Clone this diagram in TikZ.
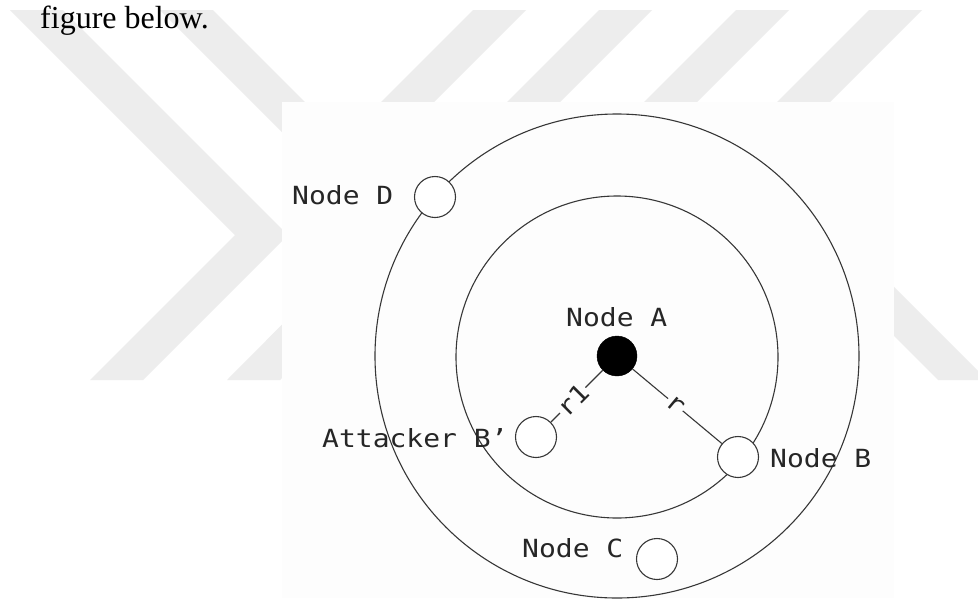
\documentclass[tikz,border=0pt]{standalone}
\usepackage{fontspec}
\setmainfont{Liberation Serif}
\newfontfamily\diagfont[FakeStretch=1.12]{DejaVu Sans Mono}
\definecolor{markgray}{RGB}{237,237,237}
\definecolor{inkgray}{RGB}{55,55,55}
\definecolor{paper}{RGB}{253,253,253}
\tikzset{
  band/.style={fill=markgray, draw=none},
  ring/.style={draw=inkgray, line width=1.1pt},
  hollow/.style={circle, draw=inkgray, line width=1.1pt, fill=white,
                 minimum size=41pt, inner sep=0pt},
  solid/.style={circle, draw=black, fill=black, minimum size=40pt, inner sep=0pt},
  tag/.style={font=\diagfont\fontsize{25}{30}\selectfont, inner sep=0pt,
              anchor=base west, text=black!85},
  link/.style={draw=inkgray, line width=1.1pt},
  dist/.style={font=\diagfont\fontsize{25}{30}\selectfont, inner sep=1pt,
               fill=paper, text=black!85}
}
\begin{document}
\begin{tikzpicture}[x=1pt, y=-1pt]
\useasboundingbox (0,0) rectangle (978,598);
\clip (0,0) rectangle (978,598);
\fill[white] (0,0) rectangle (978,598);

% background chevrons and slanted bars
\fill[band] (10,10) -- (63,10) -- (288,235) -- (143,380) -- (90,380) -- (235,235) -- cycle;
\fill[band] (160,10) -- (213,10) -- (431,228) -- (280,380) -- (227,380) -- (378,228) -- cycle;
\fill[band] (473,10) -- (526,10) -- (434,102) -- (381,102) -- cycle;
\fill[band] (599,10) -- (652,10) -- (560,102) -- (507,102) -- cycle;
\fill[band] (736,10) -- (789,10) -- (697,102) -- (644,102) -- cycle;
\fill[band] (869,10) -- (922,10) -- (830,102) -- (777,102) -- cycle;
\fill[band] (938,380) -- (987,380) -- (800,193) -- (751,193) -- cycle;

% running text above the figure
\node[anchor=base west, inner sep=0pt, font=\fontsize{32}{38}\selectfont]
  (caption) at (40,28) {figure below.};

% figure panel
\fill[paper] (282,102) rectangle (894,598);

% range rings around node A
\coordinate (hub) at (617,356);
\draw[ring] (hub) circle[radius=242];
\draw[ring] (617,357) circle[radius=161];

% nodes
\node[solid]  (A)   at (617,356) {};
\node[hollow] (B)   at (738,457) {};
\node[hollow] (Bp)  at (536,437) {};
\node[hollow] (C)   at (657,559) {};
\node[hollow] (D)   at (435,197) {};

% distances
\draw[link] (A) -- node[dist, pos=0.58, rotate=45] (r1lbl) {r1} (Bp);
\draw[link] (A) -- node[dist, pos=0.48, sloped] (rlbl) {r} (B);

% labels
\node[tag] (lblA) at (566,326) {Node A};
\node[tag] (lblB) at (770,467) {Node B};
\node[tag] (lblC) at (522,557) {Node C};
\node[tag] (lblD) at (292,204) {Node D};
\node[tag] (lblBp) at (322,447) {Attacker B’};
\end{tikzpicture}
\end{document}
